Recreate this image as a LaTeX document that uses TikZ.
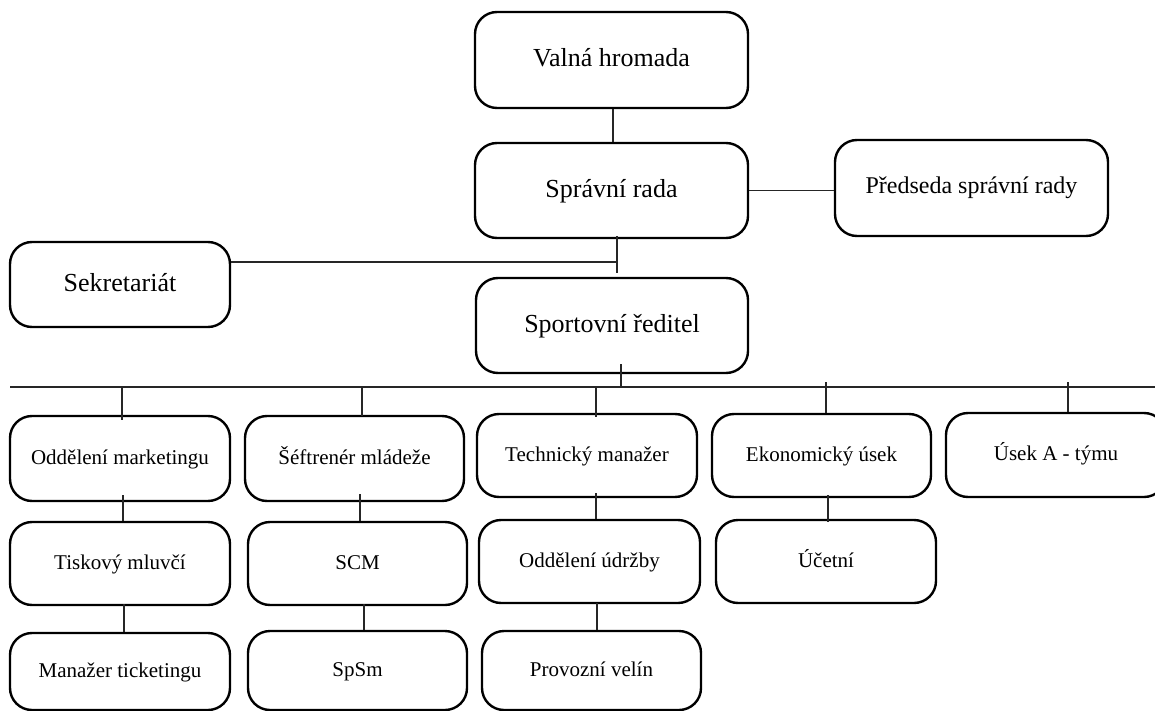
\documentclass[tikz,border=0pt]{standalone}
\usepackage{fontspec}
\setmainfont{Liberation Serif}
\begin{document}
\begin{tikzpicture}[x=1pt,y=-1pt,
  box/.style={draw=black, line width=2.4pt, rounded corners=22pt, inner sep=0pt, align=center, fill=white},
  big/.style={box, font=\fontsize{26}{30}\selectfont, text height=18.5pt, text depth=5pt},
  mid/.style={box, font=\fontsize{24}{28}\selectfont, text height=17pt, text depth=5pt},
  small/.style={box, font=\fontsize{21}{25}\selectfont, text height=15.5pt, text depth=4pt},
  conn/.style={draw=black!85, line width=1.2pt}]
\useasboundingbox (0,0) rectangle (1155,711);
\clip (0,0) rectangle (1155,711);
% top level
\node[big, minimum width=273pt, minimum height=96pt] (valna) at (611.5,60) {Valná hromada};
\node[big, minimum width=273pt, minimum height=95pt] (sprava) at (611.5,190.5) {Správní rada};
\node[mid, minimum width=273pt, minimum height=96pt] (predseda) at (971.5,188) {Předseda správní rady};
\node[big, minimum width=220pt, minimum height=85pt] (sekret) at (120,284.5) {Sekretariát};
\node[big, minimum width=272pt, minimum height=95pt] (sport) at (612,325.5) {Sportovní ředitel};
% second level
\node[small, minimum width=220pt, minimum height=85pt] (market) at (120,458.5) {Oddělení marketingu};
\node[small, minimum width=219pt, minimum height=85pt] (sef) at (354.5,458.5) {Šéftrenér mládeže};
\node[small, minimum width=220pt, minimum height=83pt] (tech) at (587,455.5) {Technický manažer};
\node[small, minimum width=219pt, minimum height=83pt] (eko) at (821.5,455.5) {Ekonomický úsek};
\node[small, minimum width=220pt, minimum height=84pt] (usek) at (1056,455) {Úsek A - týmu};
% third level
\node[small, minimum width=220pt, minimum height=83pt] (tisk) at (120,563.5) {Tiskový mluvčí};
\node[small, minimum width=219pt, minimum height=83pt] (scm) at (357.5,563.5) {SCM};
\node[small, minimum width=221pt, minimum height=83pt] (udrz) at (589.5,561.5) {Oddělení údržby};
\node[small, minimum width=220pt, minimum height=83pt] (ucet) at (826,561.5) {Účetní};
% fourth level
\node[small, minimum width=220pt, minimum height=77pt] (manaz) at (120,671.5) {Manažer ticketingu};
\node[small, minimum width=219pt, minimum height=79pt] (spsm) at (357.5,670.5) {SpSm};
\node[small, minimum width=219pt, minimum height=79pt] (provoz) at (591.5,670.5) {Provozní velín};
% junction coordinates
\coordinate (j1) at (617,262);
\coordinate (j1end) at (617,273);
\coordinate (busL) at (10,387);
\coordinate (busR) at (1155,387);
\coordinate (sportdrop) at (621,387);
% connectors
\draw[conn] ([xshift=1.5pt]valna.south) -- ([xshift=1.5pt]sprava.north);
\draw[conn] (sprava.east) -- (sprava.east -| predseda.west);
\draw[conn] ([xshift=5.5pt,yshift=3pt]sprava.south) -- (j1end);
\draw[conn] (sekret.east |- j1) -- (j1);
\draw[conn] ([xshift=9pt,yshift=10pt]sport.south) -- (sportdrop);
\draw[conn] (busL) -- (busR);
\draw[conn] (market.north |- busL) ++(2,0) -- ([xshift=2pt,yshift=-5pt]market.north);
\draw[conn] (sef.north |- busL) ++(7.5,-1) -- ([xshift=7.5pt,yshift=-1pt]sef.north);
\draw[conn] (tech.north |- busL) ++(9,0) -- ([xshift=9pt,yshift=-4pt]tech.north);
\draw[conn] (eko.north |- busL) ++(4.5,-5) -- ([xshift=4.5pt]eko.north);
\draw[conn] (usek.north |- busL) ++(12,-5) -- ([xshift=12pt]usek.north);
\draw[conn] ([xshift=3pt,yshift=7pt]market.south) -- ([xshift=3pt]tisk.north);
\draw[conn] ([xshift=5.5pt,yshift=8pt]sef.south) -- ([xshift=2.5pt]scm.north |- tisk.north);
\draw[conn] ([xshift=9pt,yshift=5pt]tech.south) -- ([xshift=6.5pt]udrz.north);
\draw[conn] ([xshift=6.5pt,yshift=3pt]eko.south) -- ([xshift=2pt,yshift=-3pt]ucet.north);
\draw[conn] ([xshift=4pt,yshift=2pt]tisk.south) -- ([xshift=4pt]manaz.north);
\draw[conn] ([xshift=6.5pt,yshift=2pt]scm.south) -- ([xshift=6.5pt]spsm.north);
\draw[conn] ([xshift=7.5pt,yshift=1pt]udrz.south) -- ([xshift=5.5pt]provoz.north);
\end{tikzpicture}
\end{document}
